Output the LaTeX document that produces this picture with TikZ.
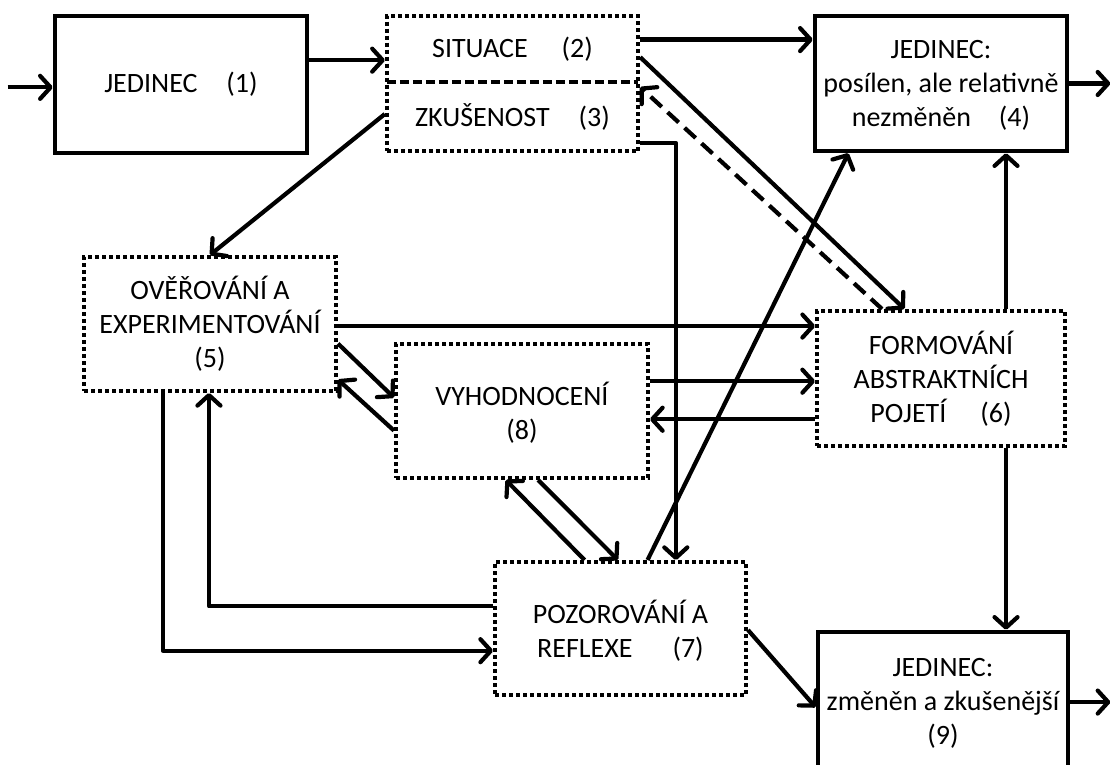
\documentclass[tikz,border=0pt]{standalone}
\usepackage{fontspec}
\setmainfont{Carlito}
\usetikzlibrary{arrows.meta,calc,fit}
\begin{document}
\begin{tikzpicture}[x=1pt,y=-1pt,
  txt/.style={font=\fontsize{28}{34}\selectfont, align=center, inner sep=0pt},
  solidbox/.style={txt, draw, line width=4.6pt, rectangle},
  dotbox/.style={txt, draw, line width=4pt, dash pattern=on 4pt off 3pt},
  arr/.style={line width=4.2pt, line join=round, -{Straight Barb[length=10.5pt,width=23pt,round]}},
  divider/.style={line width=3.5pt, dash pattern=on 9pt off 4pt}]
\useasboundingbox (0,0) rectangle (1110,764);
\clip (0,0) rectangle (1110,764);

% boxes
\node[solidbox, minimum width=252pt, minimum height=137pt] (n1) at (181,84.5) {JEDINEC\hspace{29pt}(1)};
\node[txt, minimum width=251pt, minimum height=66pt] (n2) at (512.5,49) {SITUACE\hspace{34pt}(2)};
\node[txt, minimum width=251pt, minimum height=69pt] (n3) at (512.5,116.5) {ZKUŠENOST\hspace{29pt}(3)};
\node[dotbox, fit=(n2)(n3), inner sep=0pt] (n23) {};
\draw[divider] (n2.south west) -- (n2.south east);
\node[solidbox, minimum width=252pt, minimum height=135pt, text depth=0pt] (n4) at (941,83.5) {JEDINEC:\\posílen, ale relativně\\nezměněn\hspace{28pt}(4)};
\node[dotbox, minimum width=252pt, minimum height=134pt] (n5) at (210,324) {OVĚŘOVÁNÍ A\\EXPERIMENTOVÁNÍ\\(5)};
\node[dotbox, minimum width=248pt, minimum height=135pt] (n6) at (941,378.5) {FORMOVÁNÍ\\ABSTRAKTNÍCH\\POJETÍ\hspace{34pt}(6)};
\node[dotbox, minimum width=252pt, minimum height=134pt, text depth=0pt] (n8) at (522,411) {VYHODNOCENÍ\\(8)};
\node[dotbox, minimum width=251pt, minimum height=133pt, text depth=0pt] (n7) at (620.5,628.5) {POZOROVÁNÍ A\\REFLEXE\hspace{40pt}(7)};
\node[solidbox, minimum width=250pt, minimum height=139pt, text depth=0pt] (n9) at (943,701.5) {JEDINEC:\\změněn a zkušenější\\(9)};

% free ends of the input and output arrows
\coordinate (in1) at ($(n1.north west)!0.52!(n1.south west) + (-45,0)$);
\coordinate (out4) at ($(n4.east) + (41,0)$);
\coordinate (e9) at ($(n9.north east)!0.504!(n9.south east)$);
\coordinate (out9) at ($(e9) + (40,0)$);

% connectors
\draw[arr] (in1) -- (in1 -| n1.west);
\coordinate (b1) at ($(n1.north east)!0.328!(n1.south east)$);
\draw[arr] (b1) -- (b1 -| n23.west);
\coordinate (c1) at ($(n23.north east)!0.185!(n23.south east)$);
\draw[arr] (c1) -- (c1 -| n4.west);
\draw[arr] (n4.east) -- (out4);
\coordinate (e1) at ($(n23.north west)!0.719!(n23.south west)$);
\draw[arr] (e1) -- (n5.north);
\coordinate (f1) at ($(n23.north east)!0.311!(n23.south east)$);
\coordinate (f2) at ($(n6.north west)!0.355!(n6.north east)$);
\draw[arr] (f1) -- (f2);
\coordinate (g1) at ($(n6.north west)!0.266!(n6.north east)$);
\coordinate (g2) at ($(n23.north east)!0.526!(n23.south east)$);
\draw[arr, dash pattern=on 15pt off 8pt] (g1) -- (g2);
\coordinate (h1) at ($(n23.north east)!0.926!(n23.south east)$);
\coordinate (h2) at ($(n7.north west)!0.717!(n7.north east)$);
\draw[arr] (h1) -| (h2);
\coordinate (i1) at ($(n5.north east)!0.515!(n5.south east)$);
\draw[arr] (i1) -- (i1 -| n6.west);
\coordinate (j1) at ($(n5.north east)!0.642!(n5.south east)$);
\coordinate (j2) at ($(n8.north west)!0.403!(n8.south west)$);
\draw[arr] (j1) -- (j2);
\coordinate (k1) at ($(n8.north west)!0.642!(n8.south west)$);
\coordinate (k2) at ($(n5.north east)!0.903!(n5.south east)$);
\draw[arr] (k1) -- (k2);
\coordinate (l1) at ($(n8.north east)!0.284!(n8.south east)$);
\draw[arr] (l1) -- (l1 -| n6.west);
\coordinate (m1) at ($(n6.north west)!0.793!(n6.south west)$);
\draw[arr] (m1) -- (m1 -| n8.east);
\coordinate (up1) at ($(n6.north west)!0.758!(n6.north east)$);
\draw[arr] (up1) -- (up1 |- n4.south);
\coordinate (dn1) at ($(n6.south west)!0.758!(n6.south east)$);
\draw[arr] (dn1) -- (dn1 |- n9.north);
\coordinate (p1) at ($(n7.north west)!0.606!(n7.north east)$);
\coordinate (p2) at ($(n4.south west)!0.139!(n4.south east)$);
\draw[arr] (p1) -- (p2);
\coordinate (q1) at ($(n8.south west)!0.563!(n8.south east)$);
\coordinate (q2) at ($(n7.north west)!0.49!(n7.north east)$);
\draw[arr] (q1) -- (q2);
\coordinate (r1) at ($(n7.north west)!0.359!(n7.north east)$);
\coordinate (r2) at ($(n8.south west)!0.437!(n8.south east)$);
\draw[arr] (r1) -- (r2);
\coordinate (s1) at ($(n7.north west)!0.338!(n7.south west)$);
\coordinate (s2) at ($(n5.south west)!0.496!(n5.south east)$);
\draw[arr] (s1) -| (s2);
\coordinate (t1) at ($(n5.south west)!0.317!(n5.south east)$);
\coordinate (t2) at ($(n7.north west)!0.662!(n7.south west)$);
\draw[arr] (t1) |- (t2);
\coordinate (u1) at ($(n7.north east)!0.511!(n7.south east)$);
\coordinate (u2) at ($(n9.north west)!0.54!(n9.south west)$);
\draw[arr] (u1) -- (u2);
\draw[arr] (e9) -- (out9);
\end{tikzpicture}
\end{document}
